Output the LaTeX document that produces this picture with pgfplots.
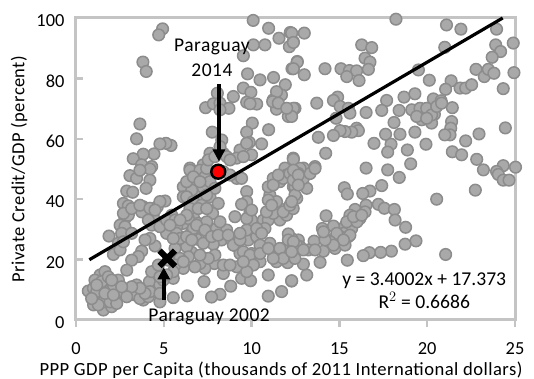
\documentclass[border=0pt]{standalone}
\usepackage{fontspec}
\setmainfont{Carlito}
\newfontfamily\wide[LetterSpace=2.5]{Carlito}
\usepackage{pgfplots}
\pgfplotsset{compat=1.18}
\usetikzlibrary{arrows.meta}
\definecolor{spine}{HTML}{C4C4C4}
\definecolor{ptfill}{HTML}{A9A9A9}
\definecolor{ptedge}{HTML}{8C8C8C}
\begin{document}
\begin{tikzpicture}[x=1pt,y=1pt]
\useasboundingbox (-76,-59) rectangle (458,320);
\begin{axis}[
  at={(0,0)},anchor=south west,
  scale only axis,width=439pt,height=302pt,
  xmin=0,xmax=25,ymin=0,ymax=100,
  xtick={0,5,...,25},ytick={0,20,...,100},
  tick pos=left,
  xtick align=outside,ytick align=inside,
  major tick length=7pt,
  tick style={spine,line width=2.4pt},
  axis line style={spine,line width=3pt},
  clip=false,
  /pgf/number format/assume math mode=true,
  tick label style={font=\fontsize{18.4}{20}\selectfont},
  xticklabel style={yshift=-12pt},
  yticklabel style={xshift=-8pt,yshift=-2.5pt},
  xlabel={PPP GDP per Capita (thousands of 2011 International dollars)},
  ylabel={Private Credit/GDP (percent)},
  xlabel style={font=\wide\fontsize{18.6}{20}\selectfont,at={(axis description cs:0.467,0)},anchor=north,yshift=-38.5pt},
  ylabel style={font=\wide\fontsize{18.5}{20}\selectfont,at={(axis description cs:0,0.5)},anchor=south,yshift=45pt},
]
\addplot[only marks,mark=*,mark size=5.8pt,
  mark options={fill=ptfill,draw=ptedge,line width=1.5pt}] table[row sep=\\] {
x y\\
10.09 99.2\\ 10.97 96.6\\ 11.56 93.3\\ 12.2 95.2\\ 12.37 92.2\\ 12.15 90.5\\ 10.76 91.1\\ 10.1 91.1\\ 9.53 87.5\\ 4.93 96.4\\ 4.71 94.4\\ 3.81 85.4\\ 4.0 82.3\\
9.77 81.5\\ 10.48 79.5\\ 11.25 80.3\\ 11.92 77.9\\ 12.3 83.2\\ 12.6 85.6\\ 9.53 76.8\\ 9.96 75.4\\ 8.96 74\\ 8.05 75.1\\ 7.38 70.3\\ 7.82 71.6\\ 8.2 71.8\\ 8.71 70.1\\
9.72 72.1\\ 10.29 71.5\\ 9.91 71.6\\ 11.23 72.9\\ 11.52 74\\ 11.7 74.5\\ 11.42 75.6\\ 11.42 69.8\\ 12.18 69.6\\ 12.47 70.1\\ 12.09 67.4\\ 11.2 72.3\\ 3.64 64.9\\ 3.45 60\\
10.04 65.2\\ 10.97 63\\ 9.72 62.2\\ 7.76 62.2\\ 8.3 59.6\\ 9.87 58.8\\ 10.57 58.3\\ 9.34 56.3\\ 10 54.7\\ 9.15 53.6\\ 7.63 55.2\\ 8.39 55.2\\ 7.25 51.4\\ 6.49 50.3\\
5.41 57.8\\ 5.12 58.5\\ 4.78 58.3\\ 4.44 55\\ 3.83 54.9\\ 3.26 53.4\\ 4.31 50.8\\ 3.74 51.4\\ 12.37 53.6\\ 12.6 49.7\\ 11.9 50.3\\
12.28 95\\ 13 95\\ 12.38 91.9\\ 18.22 99.6\\ 21.1 97.7\\ 21.92 96.3\\ 23.95 96.3\\ 24.9 91.7\\ 21.0 90.3\\ 16.27 91.1\\ 16.84 90.2\\ 23.9 91.1\\ 24.18 88.9\\ 23.7 87\\
16.46 86.7\\ 16.74 85.4\\ 12.6 85.4\\ 12.38 83.2\\ 13 81.2\\ 14.18 83.2\\ 15.09 83.2\\ 15.57 82.6\\ 15.98 82.5\\ 16.65 83\\ 15.42 80.6\\ 16.12 79.3\\ 19.5 82.8\\ 20.12 79.4\\
21.36 79.2\\ 21.05 76.4\\ 21.87 76.8\\ 22.19 76.8\\ 22.53 77.9\\ 22.78 83\\ 23.25 80.6\\ 23.48 83\\ 23.8 81.7\\ 24.94 81.9\\ 24.33 76.6\\ 17.69 72.7\\ 18.68 73.8\\ 19.3 74.9\\
20.35 73.2\\ 20.79 72.6\\ 17.41 69.4\\ 18.4 69.4\\ 16.52 68.7\\ 14.9 73.8\\ 14.66 72.7\\ 13.71 71.8\\ 15.04 70.7\\ 15.51 70.1\\ 15.6 68.5\\ 14.81 66.8\\ 12.28 69.6\\ 12.38 70.1\\
12.28 67.4\\ 19.4 68.8\\ 19.78 69\\ 19.12 69.6\\ 19.69 66.3\\ 20.41 68.1\\ 20.25 65.2\\ 21.43 70.3\\ 18.11 65.4\\ 21.39 65.7\\ 21.34 63.5\\ 21.3 61.3\\ 21.0 61.3\\ 19.3 62.2\\
18.45 61.5\\ 17.63 61.5\\ 17.94 58.2\\ 17.75 55.6\\ 16.97 58.5\\ 18.87 56.3\\ 19.93 58.2\\ 22.19 59.3\\ 22.95 61.6\\ 24.45 63.6\\ 21.43 55.7\\ 21.96 54.7\\ 22.82 53.2\\
15.98 63.5\\ 16.08 62.7\\ 15.7 62.2\\ 15.32 62.4\\ 15.04 62.7\\ 14.66 61.1\\ 13.8 60.5\\ 14.22 55.2\\ 12.38 53.2\\ 12.95 50.3\\ 13.61 50.8\\ 16.52 50.3\\ 17.75 49.7\\ 19.06 51.7\\
23.2 49.7\\ 24.33 51.1\\ 25.03 50.6\\ 23.95 49.2\\
18.41 47.2\\ 24.05 48.2\\ 24.33 46.3\\ 24.66 46.3\\ 22.74 43\\ 20.54 40\\ 17.41 44.5\\ 16.74 42.7\\ 16.33 41.9\\ 15.28 43.8\\ 15.45 41.7\\ 14.24 34.5\\ 17.22 38.3\\ 17.56 37\\
18.13 36.6\\ 18.17 33.1\\ 18.77 30.7\\ 19.36 26.2\\ 18.74 25.1\\ 21.05 21.7\\ 17.96 22.8\\ 17.35 22.4\\ 16.71 22.3\\ 16.36 21.3\\ 15.45 19.8\\ 16.52 38\\ 15.89 36.6\\ 15.6 34.7\\
15.32 31.1\\ 14.66 31.1\\ 14.03 30.3\\ 14.32 26.5\\ 15.04 25.4\\ 14.75 23.7\\ 14.09 22.8\\ 13.9 19.1\\ 13.14 14.9\\ 12.28 12.9\\ 12.95 18.5\\ 13.56 26.1\\ 12.66 26.5\\ 13.23 23.2\\
12.76 24.3\\ 12.28 27\\ 13.14 43.6\\ 12.57 40.3\\ 12.95 46.9\\ 13.33 48.5\\ 13.61 50.2\\ 12.38 44.1\\ 12.76 50.2\\ 12.28 46.9\\ 15.7 30.3\\ 15.23 28.7\\ 15.51 27.6\\ 15.32 24.8\\ 16.17 33.6\\ 16.46 35.8\\
3.07 47.8\\ 3.45 46.9\\ 4.21 50\\ 4.21 46.3\\ 3.64 49.6\\ 3.99 43.6\\ 2.89 42.7\\ 3.23 42.3\\ 2.7 38.6\\ 2.98 37.8\\ 3.83 37.5\\ 4.02 35.3\\ 4.63 37.5\\ 5.07 39.4\\ 2.79 33.6\\ 3.74 35.8\\
2.51 31.4\\ 2.79 30.9\\ 1.88 27.8\\ 2.6 28.7\\ 2.41 25.4\\ 2.13 21.7\\ 2.51 23.2\\ 6.49 49.6\\ 7.06 49.6\\ 7.34 47.4\\ 6.11 44.1\\ 6.77 45.2\\ 7.25 43.6\\ 6.11 40.8\\ 6.87 40.8\\ 7.63 40.8\\
8.1 38.6\\ 6.59 43\\ 9.15 46.9\\ 9.43 46.9\\ 9.72 42.5\\ 9.72 39.2\\ 9.43 38.3\\ 9.91 35.8\\ 9.05 34.2\\ 7.78 35.3\\ 6.68 34.2\\ 6.96 32\\ 6.11 32\\ 5.73 30.9\\ 5.45 34.7\\ 5.16 28.7\\ 5.73 28.7\\
6.87 26.8\\ 7.53 28.7\\ 8 30.3\\ 8.58 29.8\\ 8.29 26.5\\ 7.82 25.1\\ 9.15 24.3\\ 9.53 28.7\\ 9.81 26.5\\ 10.29 27.6\\ 9.91 30.9\\ 10 33.1\\ 10.67 33.1\\ 10.95 33.1\\ 11.61 36.9\\ 11.04 41.4\\ 10.95 44.1\\
11.61 45.8\\ 11.23 46.9\\ 11.99 48\\ 12.47 44.1\\ 11.61 33.1\\ 11.99 34.7\\ 12.37 36.9\\ 11.04 25.4\\ 12.09 28.5\\ 12.09 24.8\\ 12.56 24.8\\ 11.42 22.4\\ 12.05 19\\ 11.42 19.3\\ 10.15 19.8\\ 10 22\\ 9.34 22\\
9.15 17.6\\ 9.43 13.8\\ 9.94 13\\ 10.95 14.9\\ 12.28 13\\ 11.71 9.4\\ 10.95 7.9\\ 8.81 11.2\\ 8.2 8.5\\ 7.72 7.6\\ 7.29 12.7\\ 8.39 15.4\\ 7.88 18.7\\ 7.91 21.5\\ 7.34 17.1\\ 7.06 18.7\\ 6.77 17.6\\ 6.11 17.1\\
6.59 22.4\\ 6.3 24.3\\ 5.54 13.8\\ 5.54 7.4\\ 6.34 8\\ 4.78 6\\ 4.5 9.4\\ 3.83 6.6\\ 3.45 11.6\\ 3.36 8.3\\ 4.18 12.7\\ 4.31 16\\ 4.69 18.2\\ 5.26 19.8\\ 3.74 22.8\\ 4.5 24.5\\ 4.21 27\\ 3.93 26.5\\ 3.55 21\\ 3.17 19.8\\
2.89 16.5\\ 2.41 13.2\\ 1.69 13\\ 1.37 14.9\\ 1.08 13.2\\ 0.7 9.6\\ 0.99 10.5\\ 1.65 16\\ 1.18 7.1\\ 1.56 3.3\\ 1 5\\ 2.03 4.4\\ 2.32 7.1\\ 1.56 10.5\\ 1.94 9.9\\ 1.46 7.7\\ 1.94 7.1\\ 2.41 9.4\\ 2.98 9.4\\ 3.26 8.8\\
3.64 7.1\\ 4.12 7.7\\ 4.78 11.6\\ 4.97 13.2\\ 5.64 23.7\\ 5.92 27\\ 6.59 29.2\\ 7.25 25.4\\ 7.15 30.3\\ 7.44 32.5\\ 8.2 32.5\\ 8.86 26.5\\ 10.48 24.8\\ 10.76 30.3\\ 11.23 35.3\\ 4.5 33.1\\ 4.31 31.4\\ 4.78 30.9\\
5.16 33.1\\ 5.64 33.1\\ 6.4 33.6\\ 6.68 30.3\\ 6.3 27.6\\ 5.54 27\\ 6.59 26.5\\ 6.87 31.4\\ 7.34 29.8\\ 7.72 27.6\\ 8.1 28.1\\ 8.67 28.1\\ 8.96 24.8\\ 9.34 26.5\\ 9.72 29.8\\ 10.29 30.3\\ 10.57 28.7\\ 9.53 22.6\\ 9.91 21.5\\ 10.48 19.3\\
8.39 18.2\\ 8.77 18.2\\ 7.53 20.4\\ 7.06 21.5\\ 6.4 20.9\\ 5.92 20.4\\ 5.64 18.2\\ 6.11 19.3\\ 5.54 16\\ 5.16 14.9\\ 4.78 14.3\\ 4.21 9.4\\ 4.78 8.8\\ 3.93 8.8\\ 3.64 10.5\\ 3.17 11\\ 2.89 7.7\\ 2.13 11.6\\ 1.18 9.4\\ 1.46 12.7\\ 1.18 11.6\\ 1.84 14.3\\
1.56 6\\ 1.94 6\\ 1.27 5\\ 0.89 7.1\\ 2.32 5.5\\ 1.65 8.8\\ 2.13 8.3\\ 2.6 11\\ 2.03 13.2\\ 2.98 34.7\\ 2.7 35.3\\ 3.17 36.9\\ 3.64 38\\ 4.21 37\\ 4.78 39.2\\ 4.5 36.4\\ 4.12 33.1\\ 3.17 28.7\\ 2.7 25.9\\
6.3 45.8\\ 6.3 40.8\\ 6.68 39.2\\ 7.15 38\\ 6.49 36.9\\ 6.96 36.9\\ 7.44 36.9\\ 6.68 47.4\\ 7.63 45.8\\ 7.91 43.6\\ 7.44 41.4\\ 8.39 49.1\\ 8.77 48\\ 7.44 50.2\\ 7.06 45.8\\ 6.3 34.7\\ 5.92 33.1\\ 5.35 31.4\\
9.34 28.7\\ 9.72 33.6\\ 10 36.4\\ 10.85 35.8\\ 11.42 39.2\\ 10.95 39.7\\ 11.23 44.7\\ 11.8 46.9\\ 12.18 48.5\\ 11.52 48\\ 12.37 46.3\\ 12.66 48.5\\ 11.14 38\\ 11.8 35.8\\ 12.18 38\\ 11.61 23.7\\ 12.09 26.5\\ 12.37 23.7\\ 11.8 20.4\\ 11.23 20.4\\
10.48 22\\ 10.95 23.7\\ 10.1 18.2\\ 9.72 16\\ 9.53 19.3\\ 12.38 49.6\\ 12.66 48\\ 12.47 41.4\\ 12.28 39.2\\ 12.66 44.7\\ 12.38 25.9\\ 12.95 23.2\\ 12.47 20.4\\ 12.28 22.6\\ 15.04 27.6\\ 15.6 28.1\\ 15.42 32.5\\ 14.85 28.7\\ 14.47 25.9\\ 16 32.5\\
15.8 34.2\\ 16.27 34.7\\ 15.23 26.5\\ 14.66 24.8\\ 14.18 26.5\\ 13.61 23.2\\ 14.09 29.2\\ 19.59 70.1\\ 19.97 70.1\\ 20.25 67.9\\ 19.4 67.4\\ 20.54 70.7\\ 20.82 71.8\\ 19.97 66.8\\
8.2 69.6\\ 11.52 71.8\\ 12 70.1\\ 9.72 58.5\\ 8.2 57.4\\ 8.58 54.1\\ 7.53 53\\ 7.91 54.1\\ 8.77 53\\ 9.53 54.1\\
};
\end{axis}
\begin{axis}[
  at={(0,0)},anchor=south west,
  scale only axis,width=439pt,height=302pt,
  xmin=0,xmax=25,ymin=0,ymax=100,
  hide axis,clip=false,
]
\addplot[black,line width=3.2pt,forget plot] coordinates {(0.76,19.96) (24.3,100)};
\addplot[black,line width=4.5pt,-{Triangle[width=12pt,length=12pt]},forget plot] coordinates {(8.14,78) (8.14,52.5)};
\addplot[black,line width=4.5pt,-{Triangle[width=12pt,length=12pt]},forget plot] coordinates {(5.0,6.6) (5.0,17.4)};
\addplot[only marks,mark=*,mark size=7pt,mark options={fill=red,draw=black,line width=2.4pt}] coordinates {(8.1,49.1)};
\addplot[only marks,mark=x,mark size=11pt,mark options={draw=black,line width=6pt}] coordinates {(5.2,20.4)};
\node[font=\wide\fontsize{19.5}{25}\selectfont,align=center] at (axis cs:7.74,86.8) {Paraguay\\2014};
\node[font=\wide\fontsize{19.5}{22}\selectfont] at (axis cs:7.58,0.9) {Paraguay 2002};
\node[font=\fontsize{19.6}{23}\selectfont,align=center] at (axis cs:19.83,9.6) {y = 3.4002x + 17.373\\R$^2$ = 0.6686};
\end{axis}
\end{tikzpicture}
\end{document}
